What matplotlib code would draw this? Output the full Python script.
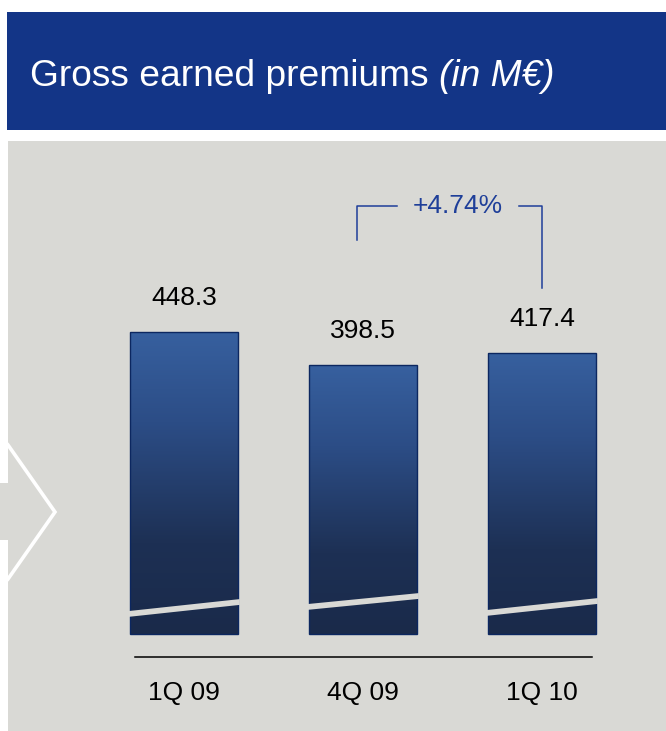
import numpy as np
import matplotlib.pyplot as plt
from matplotlib.colors import LinearSegmentedColormap
from matplotlib.patches import Rectangle, Polygon

plt.rcParams['font.family'] = ['Liberation Sans', 'DejaVu Sans']

quarters = ["1Q 09", "4Q 09", "1Q 10"]
premiums = [448.3, 398.5, 417.4]

# slanted break drawn across the bottom of each bar (left / right height, M€)
break_left = [29.7, 40.1, 31.2]
break_right = [47.5, 56.4, 49.0]

NAVY = "#133587"
PANEL = "#d9d9d5"
BRACKET = "#1f3f99"

fig = plt.figure(figsize=(6.66, 7.31), dpi=100)

# background decorations in pixel coordinates
bg = fig.add_axes([0, 0, 1, 1])
bg.set_xlim(0, 666)
bg.set_ylim(731, 0)
bg.axis('off')
bg.add_patch(Rectangle((7, 12), 659, 118, color=NAVY, lw=0))
bg.add_patch(Rectangle((8, 141), 658, 590, color=PANEL, lw=0))
bg.add_patch(Rectangle((0, 483), 8, 57, color=PANEL, lw=0))
bg.plot([8, 55, 8], [445, 512, 579], color="white", lw=2.6, solid_joinstyle='miter')

t1 = bg.text(30, 77, "Gross earned premiums ", color="white", fontsize=26.7,
             ha="left", va="center")
fig.canvas.draw()
bb = t1.get_window_extent()
x_end = bg.transData.inverted().transform((bb.x1, bb.y0))[0]
bg.text(x_end, 77, "(in M\u20ac)", color="white", fontsize=26.7, style="italic",
        ha="left", va="center")

# bar chart
ax = fig.add_axes([100 / 666, 1 - 657 / 731, 526 / 666, 477 / 731])
ax.patch.set_visible(False)

x = np.arange(len(quarters))
width = 0.603
cmap = LinearSegmentedColormap.from_list(
    "bar", [(0.0, "#1a2a4a"), (0.3, "#1d3054"), (0.7, "#2c4d86"), (1.0, "#37609f")])
grad = np.linspace(0, 1, 256).reshape(-1, 1)

bars = ax.bar(x, premiums, width=width, color="none", edgecolor="#0c2760",
              lw=1.0, zorder=3)
for b, v in zip(bars, premiums):
    x0 = b.get_x()
    im = ax.imshow(grad, extent=[x0, x0 + width, 0, v], origin="lower",
                   aspect="auto", cmap=cmap, zorder=2)
    im.set_clip_path(b)

gap = 4.3
for xi, bl, br in zip(x, break_left, break_right):
    x0 = xi - width / 2 - 0.01
    x1 = xi + width / 2 + 0.01
    ax.add_patch(Polygon([(x0, bl - gap), (x1, br - gap), (x1, br + gap), (x0, bl + gap)],
                         closed=True, color=PANEL, lw=0, zorder=4))

for xi, v in zip(x, premiums):
    ax.annotate(f"{v:.1f}", (xi, v), xytext=(0, 24.5), textcoords="offset points",
                ha="center", va="center", fontsize=19, color="black")

# growth bracket between the last two quarters
growth = (premiums[2] / premiums[1] - 1) * 100
top = 635
ax.plot([0.966, 0.966, 1.19], [premiums[1] + 186, top, top], color=BRACKET, lw=1.1)
ax.plot([1.872, 2.0, 2.0], [top, top, premiums[2] + 96], color=BRACKET, lw=1.1)
ax.text(1.53, top, f"+{growth:.2f}%", color=BRACKET, fontsize=19,
        ha="center", va="center")

ax.set_xlim(-0.469, 2.469)
ax.set_ylim(-34.1, 673.6)
ax.axhline(-34.1, xmin=35 / 526, xmax=492 / 526, color="black", lw=1.1, clip_on=False)
ax.set_xticks(x, quarters)
ax.set_yticks([])
ax.tick_params(axis="x", length=0, pad=17, labelsize=19)
for s in ax.spines.values():
    s.set_visible(False)

fig.savefig("out.png", dpi=100)
